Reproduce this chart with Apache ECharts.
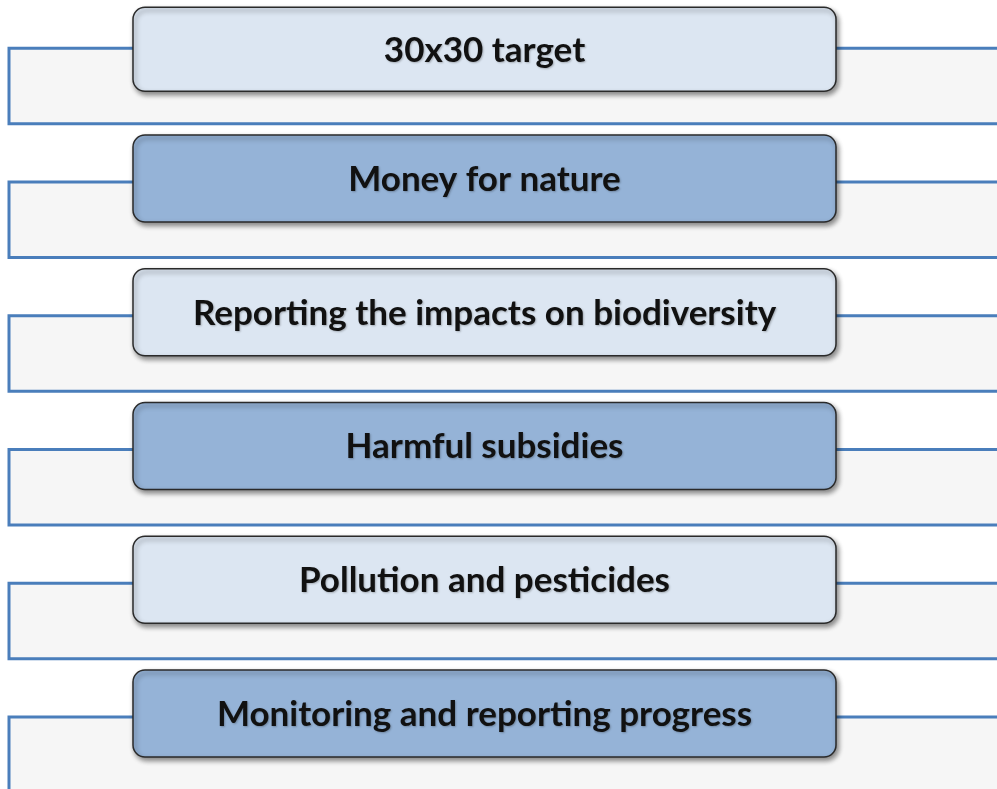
<!DOCTYPE html>
<html>
<head>
<meta charset="utf-8">
<script src="https://cdn.jsdelivr.net/npm/echarts@6/dist/echarts.min.js"></script>
<style>
html,body{margin:0;padding:0;background:#fff;}
#main{width:997px;height:789px;}
</style>
</head>
<body>
<div id="main"></div>
<script>
// Data
var categories = [
  '30x30 target',
  'Money for nature',
  'Reporting the impacts on biodiversity',
  'Harmful subsidies',
  'Pollution and pesticides',
  'Monitoring and reporting progress'
];
var shades = ['light', 'dark', 'light', 'dark', 'light', 'dark'];

var boxColors = { light: '#dce6f2', dark: '#95b3d7' };

var chart = echarts.init(document.getElementById('main'), null, { renderer: 'canvas' });

var seriesData = categories.map(function (c, i) { return [0, i]; });

chart.setOption({
  backgroundColor: '#ffffff',
  animation: false,
  grid: { left: 0, right: 0, top: 44.75, bottom: 75.5 },
  xAxis: { type: 'value', min: 0, max: 997, show: false },
  yAxis: { type: 'category', data: categories, inverse: true, boundaryGap: false, show: false },
  series: [{
    type: 'custom',
    data: seriesData,
    renderItem: function (params, api) {
      var i = api.value(1);
      var cy = api.coord([0, i])[1];
      var x0 = api.coord([9, i])[0];
      var bx0 = api.coord([133, i])[0];
      var bx1 = api.coord([836, i])[0];
      var shade = shades[i];
      var bandTop = cy + 3.5;
      var boxTop = i === 0 ? cy - 37.5 : cy - 43.5;
      var boxH = i === 0 ? 84 : 87;
      return {
        type: 'group',
        children: [
          {
            type: 'rect',
            shape: { x: x0, y: bandTop, width: 1100, height: 75.5 },
            style: { fill: '#f6f6f6', stroke: '#4a7ebb', lineWidth: 3 }
          },
          {
            type: 'rect',
            shape: { x: bx0, y: boxTop, width: bx1 - bx0, height: boxH, r: 12 },
            style: {
              fill: boxColors[shade],
              stroke: '#2a2a2a',
              lineWidth: 1.5,
              shadowBlur: 5,
              shadowOffsetX: 2,
              shadowOffsetY: 3,
              shadowColor: 'rgba(0,0,0,0.45)'
            }
          },
          {
            type: 'text',
            style: {
              x: (bx0 + bx1) / 2,
              y: boxTop + boxH / 2 + 1,
              text: categories[i],
              align: 'center',
              verticalAlign: 'middle',
              fill: '#111111',
              font: 'bold 35px Lato, "Open Sans", sans-serif',
              textShadowColor: 'rgba(0,0,0,0.25)',
              textShadowBlur: 2,
              textShadowOffsetX: 1,
              textShadowOffsetY: 1
            }
          }
        ]
      };
    }
  }]
});
</script>
</body>
</html>
